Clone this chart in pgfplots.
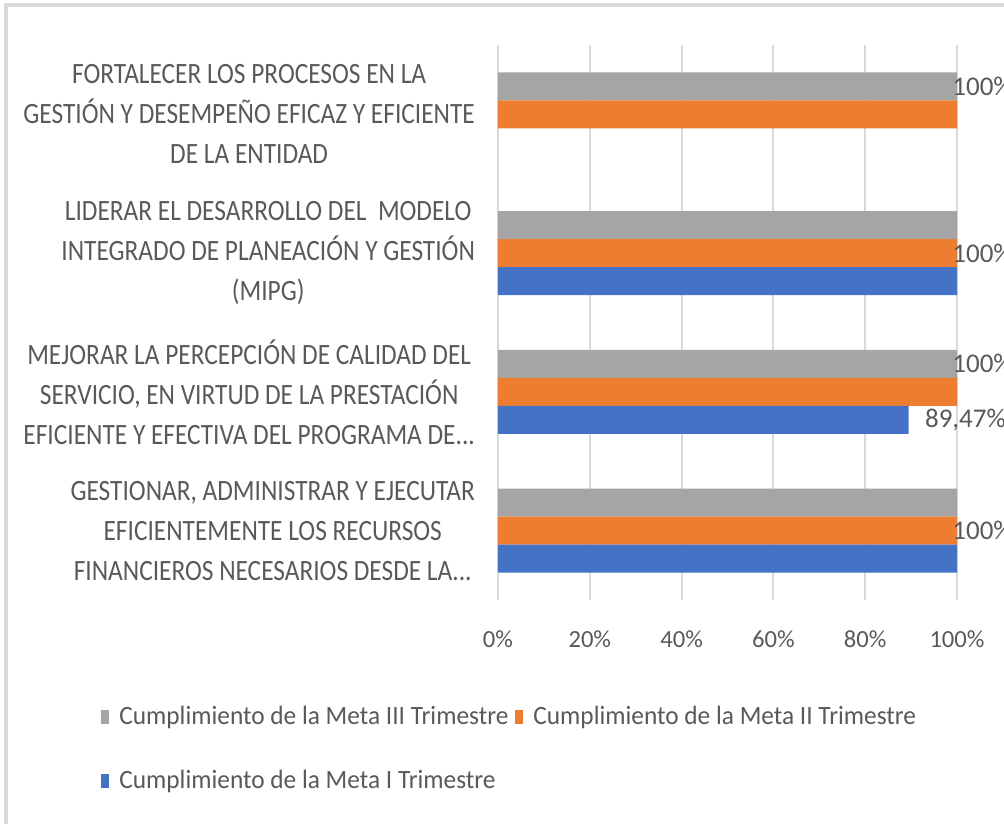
\documentclass[border=0pt]{standalone}
\usepackage{fontspec}
\setmainfont{Carlito}
\newfontfamily\catfont{Carlito}[FakeStretch=0.86]
\newfontfamily\legfont{Carlito}[FakeStretch=0.96]
\usepackage{pgfplots}
\usepackage{pgfplotstable}
\pgfplotsset{compat=1.18}
\definecolor{cgray}{HTML}{A5A5A5}
\definecolor{corange}{HTML}{ED7D31}
\definecolor{cblue}{HTML}{4472C4}
\definecolor{ctext}{HTML}{595959}
\definecolor{cgrid}{HTML}{D9D9D9}
\newcommand{\ddd}{...}

\pgfplotstableread{
y x label dx
0 100 {} 0
1 100 {100\%} -2.5
2 100 {} 0
3 100 {100\%} -2.5
}\tgray
\pgfplotstableread{
y x label dx
0 100 {100\%} -2.5
1 100 {} 0
2 100 {100\%} -2.5
3 100 {} 0
}\torange
\pgfplotstableread{
y x label dx
0 100 {} 0
1 89.47 {89,47\%} 8
2 100 {} 0
}\tblue

\begin{document}
\begin{tikzpicture}[x=1pt,y=1pt]
\begin{axis}[
  at={(0,0)}, anchor=south west,
  scale only axis,
  width=229.5pt, height=277.5pt,
  xmin=0, xmax=100, ymin=-0.5, ymax=3.5,
  xbar, bar width=14pt,
  axis line style={draw=none},
  major tick length=0pt,
  xmajorgrids, grid style={cgrid, line width=1pt},
  xtick={0,20,40,60,80,100},
  xticklabels={0\%,20\%,40\%,60\%,80\%,100\%},
  ytick={0,1,2,3},
  yticklabels={
    {GESTIONAR, ADMINISTRAR Y EJECUTAR\\EFICIENTEMENTE LOS RECURSOS\\FINANCIEROS NECESARIOS DESDE LA\ddd},
    {MEJORAR LA PERCEPCIÓN DE CALIDAD DEL\\SERVICIO, EN VIRTUD DE LA PRESTACIÓN\\EFICIENTE Y EFECTIVA DEL PROGRAMA DE\ddd},
    {LIDERAR EL DESARROLLO DEL\ \ MODELO\\INTEGRADO DE PLANEACIÓN Y GESTIÓN\\(MIPG)},
    {FORTALECER LOS PROCESOS EN LA\\GESTIÓN Y DESEMPEÑO EFICAZ Y EFICIENTE\\DE LA ENTIDAD}},
  /pgf/number format/assume math mode=true,
  xticklabel style={font=\fontsize{12.3}{14}\selectfont, text=ctext, yshift=-12pt},
  yticklabel style={font=\catfont\fontsize{14.75}{20}\selectfont, text=ctext, align=center, anchor=east, xshift=-8pt},
  point meta=explicit symbolic,
  nodes near coords,
  visualization depends on={\thisrow{dx} \as \dx},
  nodes near coords style={font=\fontsize{13.5}{16}\selectfont, text=ctext, anchor=west, inner sep=0pt, xshift=\dx pt},
  legend columns=2,
  legend cell align=left,
  legend style={at={(-0.865,-0.184)}, anchor=north west, draw=none, fill=none,
    font=\legfont\fontsize{13.2}{16}\selectfont, text=ctext,
    /tikz/every odd column/.append style={column sep=3pt},
    /tikz/every even column/.append style={column sep=1.5pt},
    /tikz/row sep=17pt, inner sep=0pt},
  legend image code/.code={\fill[#1,draw=none] (0pt,-3.5pt) rectangle (4pt,3.5pt);},
  clip=false,
]
\addplot[fill=cgray, draw=none, bar shift=14pt] table[x=x, y=y, meta=label] {\tgray};
\addlegendentry{Cumplimiento de la Meta III Trimestre}
\addplot[fill=corange, draw=none, bar shift=0pt] table[x=x, y=y, meta=label] {\torange};
\addlegendentry{Cumplimiento de la Meta II Trimestre}
\addplot[fill=cblue, draw=none, bar shift=-14pt] table[x=x, y=y, meta=label] {\tblue};
\addlegendentry{Cumplimiento de la Meta I Trimestre}
\end{axis}
\draw[cgrid, line width=2pt] (-245.75pt,-120pt) -- (-245.75pt,297.5pt) -- (260pt,297.5pt);
\pgfresetboundingbox
\useasboundingbox (-249pt,-111.5pt) rectangle (253pt,300pt);
\end{tikzpicture}
\end{document}
